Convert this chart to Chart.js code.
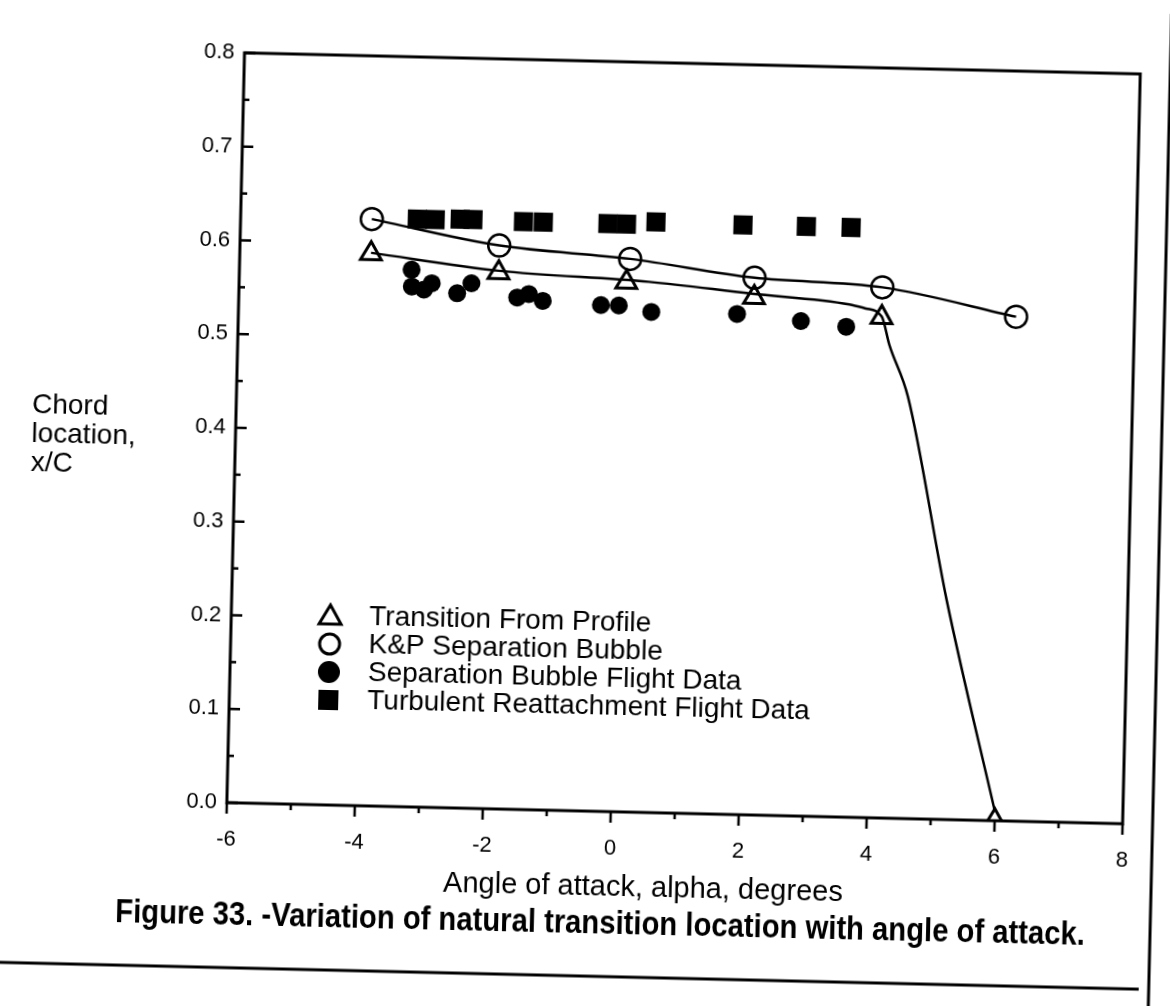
<!DOCTYPE html>
<html>
<head>
<meta charset="utf-8">
<script src="https://cdn.jsdelivr.net/npm/chart.js@4.4.1/dist/chart.umd.min.js"></script>
<style>
  html, body { margin: 0; padding: 0; background: #fff; overflow: hidden; }
  #wrap { width: 1170px; height: 1006px; transform: rotate(1.35deg); transform-origin: 585px 503px; }
</style>
</head>
<body>
<div id="wrap"><canvas id="chart"></canvas></div>
<script>
// Transition From Profile (open triangles)
const transitionX = [-3.95, -1.95, 0.05, 2.05, 4.05, 6.0];
const transitionY = [0.589, 0.572, 0.565, 0.552, 0.534, 0.0];

// fitted curve through the transition points
const transitionFitX = [-3.95, -1.95, 0.4, 2.0, 3.54, 3.8, 4.05, 4.18, 4.49, 5.17, 6.0];
const transitionFitY = [0.590, 0.574, 0.566, 0.556, 0.547, 0.543, 0.535, 0.505, 0.45, 0.234, 0.01];

// K&P Separation Bubble (open circles)
const kpX = [-3.95, -1.95, 0.1, 2.05, 4.05, 6.15];
const kpY = [0.626, 0.601, 0.590, 0.573, 0.566, 0.538];

// Separation Bubble Flight Data (filled circles)
const bubbleX = [-3.31, -3.30, -2.99, -3.11, -2.59, -2.37, -1.65, -1.47, -1.25, -0.34, -0.06, 0.45, 1.79, 2.79, 3.5];
const bubbleY = [0.573, 0.555, 0.559, 0.552, 0.549, 0.560, 0.546, 0.550, 0.543, 0.540, 0.540, 0.534, 0.534, 0.528, 0.523];

// Turbulent Reattachment Flight Data (filled squares)
const reattachX = [-3.24, -2.96, -2.57, -2.37, -1.58, -1.27, -0.26, 0.03, 0.49, 1.85, 2.84, 3.54];
const reattachY = [0.627, 0.627, 0.628, 0.628, 0.627, 0.627, 0.627, 0.627, 0.630, 0.629, 0.629, 0.629];

const xMin = -6, xMax = 8;
const yMin = 0, yMax = 0.8;

const legendItems = [
    { style: 'triangle', text: 'Transition From Profile' },
    { style: 'circle', text: 'K&P Separation Bubble' },
    { style: 'dot', text: 'Separation Bubble Flight Data' },
    { style: 'square', text: 'Turbulent Reattachment Flight Data' }
];

const yTitle = ['Chord', 'location,', 'x/C'];
const xTitle = 'Angle of attack, alpha, degrees';
const caption = 'Figure 33. -Variation of natural transition location with angle of attack.';

function toPoints(xs, ys) {
    return xs.map(function(v, i) { return { x: v, y: ys[i] }; });
}

// draws text squeezed horizontally, like the condensed face of the scan
function condensedText(ctx, text, x, y, squeeze) {
    ctx.save();
    ctx.translate(x, y);
    ctx.scale(squeeze, 1);
    ctx.fillText(text, 0, 0);
    ctx.restore();
}

// Frame, inward y ticks, outward x ticks, legend and titles
const figurePlugin = {
    id: 'figure',
    afterDraw: function(chart) {
        const ctx = chart.ctx;
        const area = chart.chartArea;
        const xs = chart.scales.x, ys = chart.scales.y;
        ctx.save();
        ctx.strokeStyle = '#000';
        ctx.lineWidth = 3;
        ctx.strokeRect(area.left, area.top, area.right - area.left, area.bottom - area.top);

        // x ticks
        ctx.lineWidth = 2.5;
        for (let v = xMin; v <= xMax; v++) {
            const px = xs.getPixelForValue(v);
            const len = (v % 2 === 0) ? 11 : 6;
            ctx.beginPath();
            ctx.moveTo(px, area.bottom);
            ctx.lineTo(px, area.bottom + len);
            ctx.stroke();
        }
        // y ticks
        for (let i = 0; i <= 16; i++) {
            const py = ys.getPixelForValue(i * 0.05);
            const len = (i % 2 === 0) ? 11 : 6;
            ctx.beginPath();
            ctx.moveTo(area.left, py);
            ctx.lineTo(area.left + len, py);
            ctx.stroke();
        }

        // legend
        ctx.fillStyle = '#000';
        ctx.font = '28px "Liberation Sans", Arial, sans-serif';
        ctx.textBaseline = 'middle';
        const lx = 333, tx = 372;
        const rows = [622, 650, 678, 706];
        legendItems.forEach(function(item, i) {
            const cy = rows[i];
            ctx.lineWidth = 3;
            ctx.beginPath();
            if (item.style === 'triangle') {
                ctx.moveTo(lx, cy - 11);
                ctx.lineTo(lx + 11, cy + 8);
                ctx.lineTo(lx - 11, cy + 8);
                ctx.closePath();
                ctx.stroke();
            } else if (item.style === 'circle') {
                ctx.arc(lx, cy, 10, 0, Math.PI * 2);
                ctx.stroke();
            } else if (item.style === 'dot') {
                ctx.arc(lx, cy, 11, 0, Math.PI * 2);
                ctx.fill();
            } else {
                ctx.fillRect(lx - 10, cy - 10, 20, 20);
            }
            ctx.fillText(item.text, tx, cy);
        });

        // y axis title
        ctx.font = '28px "Liberation Sans", Arial, sans-serif';
        ctx.textAlign = 'left';
        yTitle.forEach(function(line, i) {
            ctx.fillText(line, 30, 418 + i * 29);
        });

        // x axis title
        ctx.textAlign = 'center';
        ctx.font = '29px "Liberation Sans", sans-serif';
        ctx.fillText(xTitle, 652, 887);

        // caption
        ctx.font = 'bold 34px "Liberation Sans", sans-serif';
        condensedText(ctx, caption, 610, 924, 0.86);

        // page rules
        ctx.lineWidth = 3;
        ctx.beginPath();
        ctx.moveTo(0, 976);
        ctx.lineTo(1150, 976);
        ctx.moveTo(1160, 0);
        ctx.lineTo(1160, 1006);
        ctx.stroke();
        ctx.restore();
    }
};

new Chart(document.getElementById('chart'), {
    type: 'scatter',
    data: {
        datasets: [
            {
                label: 'Transition fit',
                data: toPoints(transitionFitX, transitionFitY),
                showLine: true,
                cubicInterpolationMode: 'monotone',
                borderColor: '#000',
                borderWidth: 2.5,
                pointRadius: 0
            },
            {
                label: 'Transition From Profile',
                data: toPoints(transitionX, transitionY),
                pointStyle: 'triangle',
                pointRadius: 12,
                pointBorderWidth: 3,
                pointBorderColor: '#000',
                pointBackgroundColor: 'rgba(255,255,255,0)'
            },
            {
                label: 'K&P Separation Bubble',
                data: toPoints(kpX, kpY),
                showLine: true,
                cubicInterpolationMode: 'monotone',
                borderColor: '#000',
                borderWidth: 2.5,
                pointStyle: 'circle',
                pointRadius: 11,
                pointBorderWidth: 2.5,
                pointBorderColor: '#000',
                pointBackgroundColor: 'rgba(255,255,255,0)'
            },
            {
                label: 'Separation Bubble Flight Data',
                data: toPoints(bubbleX, bubbleY),
                pointStyle: 'circle',
                pointRadius: 9,
                pointBorderWidth: 0,
                pointBackgroundColor: '#000'
            },
            {
                label: 'Turbulent Reattachment Flight Data',
                data: toPoints(reattachX, reattachY),
                pointStyle: 'rect',
                pointRadius: 13.5,
                pointBorderWidth: 0,
                pointBackgroundColor: '#000'
            }
        ]
    },
    options: {
        responsive: true,
        maintainAspectRatio: false,
        animation: false,
        layout: { padding: { left: 0, right: 40, top: 61, bottom: 0 } },
        plugins: {
            legend: { display: false },
            tooltip: { enabled: false }
        },
        scales: {
            x: {
                type: 'linear',
                min: xMin,
                max: xMax,
                grid: { display: false, drawTicks: false },
                border: { display: false },
                ticks: {
                    stepSize: 2,
                    padding: 24,
                    color: '#000',
                    font: { family: '"Liberation Sans", sans-serif', size: 22 }
                },
                afterFit: function(scale) { scale.height = 195; }
            },
            y: {
                type: 'linear',
                min: yMin,
                max: yMax,
                grid: { display: false, drawTicks: false },
                border: { display: false },
                ticks: {
                    stepSize: 0.1,
                    padding: 10,
                    color: '#000',
                    font: { family: '"Liberation Sans", sans-serif', size: 22 },
                    callback: function(value) { return value.toFixed(1); }
                },
                afterFit: function(scale) { scale.width = 234; }
            }
        }
    },
    plugins: [figurePlugin]
});
</script>
</body>
</html>
